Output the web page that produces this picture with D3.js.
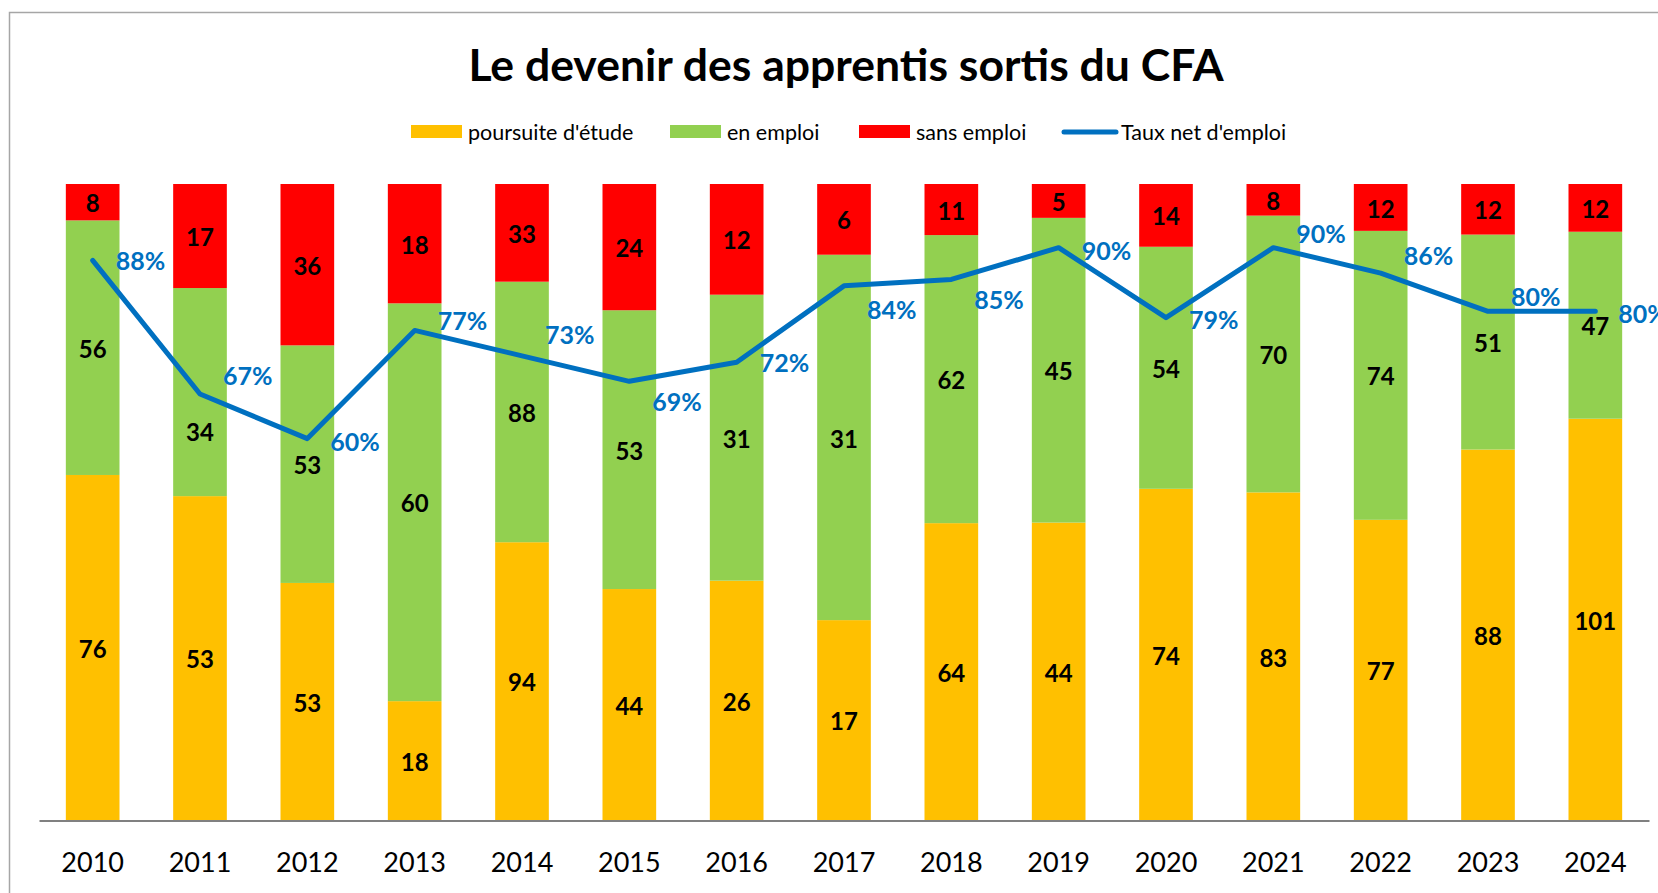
<!DOCTYPE html>
<html>
<head>
<meta charset="utf-8">
<script src="https://cdn.jsdelivr.net/npm/d3@7"></script>
<style>
  body { margin: 0; background: #fff; }
  svg { display: block; font-family: Lato, "Open Sans", sans-serif; }
</style>
</head>
<body>
<svg id="chart"></svg>
<script>
const width = 1658;
const height = 893;

// data
const years = ["2010", "2011", "2012", "2013", "2014", "2015", "2016", "2017", "2018", "2019", "2020", "2021", "2022", "2023", "2024"];
const poursuite = [76, 53, 53, 18, 94, 44, 26, 17, 64, 44, 74, 83, 77, 88, 101];
const enEmploi = [56, 34, 53, 60, 88, 53, 31, 31, 62, 45, 54, 70, 74, 51, 47];
const sansEmploi = [8, 17, 36, 18, 33, 24, 12, 6, 11, 5, 14, 8, 12, 12, 12];
const tauxNet = [88, 67, 60, 77, 73, 69, 72, 84, 85, 90, 79, 90, 86, 80, 80];
const seriesNames = ["poursuite d'étude", "en emploi", "sans emploi"];
const lineName = "Taux net d'emploi";

// hand-moved labels in the original (vertical nudge, px)
const rateLabelDy = [0, -19, 2, -10, -22, 20, 0, 23, 20, 2, 1, -15, -18, -15, 2];
const segLabelDy = { "en emploi|2011": 39 };

const colors = {
    "poursuite d'étude": "#FFC000",
    "en emploi": "#92D050",
    "sans emploi": "#FF0000",
};
const lineColor = "#0070C0";

const svg = d3.select("#chart").attr("width", width).attr("height", height);

const rows = years.map((y, i) => ({
    year: y,
    "poursuite d'étude": poursuite[i],
    "en emploi": enEmploi[i],
    "sans emploi": sansEmploi[i],
}));

const stacked = d3.stack().keys(seriesNames).offset(d3.stackOffsetExpand)(rows);

const x = d3.scaleBand().domain(years).range([39, 1649]).paddingInner(0.5).paddingOuter(0.25);
const y = d3.scaleLinear().domain([0, 1]).range([820.5, 184]);

// chart frame (runs off the right and bottom edge)
svg.append("rect")
    .attr("x", 9.5).attr("y", 12.5)
    .attr("width", 1720).attr("height", 940)
    .attr("fill", "none")
    .attr("stroke", "#a6a6a6")
    .attr("stroke-width", 1.5);

svg.append("text")
    .attr("x", 846).attr("y", 81)
    .attr("text-anchor", "middle")
    .attr("font-size", 44.5)
    .attr("font-weight", 700)
    .attr("fill", "#000")
    .text("Le devenir des apprentis sortis du CFA");

// bars
const layers = svg.append("g")
    .selectAll("g")
    .data(stacked)
    .join("g")
    .attr("fill", (d) => colors[d.key]);

layers.selectAll("rect")
    .data((d) => d)
    .join("rect")
    .attr("x", (d) => x(d.data.year))
    .attr("width", x.bandwidth())
    .attr("y", (d) => y(d[1]))
    .attr("height", (d) => y(d[0]) - y(d[1]));

// axis
const xAxis = svg.append("g")
    .attr("transform", `translate(0,${y(0)})`)
    .call(d3.axisBottom(x).tickSize(0).tickPadding(32));
xAxis.select(".domain").attr("stroke", "#808080").attr("stroke-width", 2);
xAxis.selectAll("text")
    .attr("font-size", 27)
    .attr("font-family", "Lato, sans-serif")
    .attr("fill", "#000");

// line
const line = d3.line()
    .x((d, i) => x(years[i]) + x.bandwidth() / 2)
    .y((d) => y(d / 100));

svg.append("path")
    .datum(tauxNet)
    .attr("d", line)
    .attr("fill", "none")
    .attr("stroke", lineColor)
    .attr("stroke-width", 5)
    .attr("stroke-linejoin", "round")
    .attr("stroke-linecap", "round");

// segment labels
layers.each(function (layer) {
    d3.select(this).selectAll("text")
        .data(layer)
        .join("text")
        .attr("x", (d) => x(d.data.year) + x.bandwidth() / 2)
        .attr("y", (d) => (y(d[0]) + y(d[1])) / 2 + (segLabelDy[layer.key + "|" + d.data.year] || 0))
        .attr("dy", "0.42em")
        .attr("text-anchor", "middle")
        .attr("font-size", 24)
        .attr("font-weight", 700)
        .attr("fill", "#000")
        .text((d) => d.data[layer.key]);
});

// rate labels
svg.append("g")
    .selectAll("text")
    .data(tauxNet)
    .join("text")
    .attr("x", (d, i) => x(years[i]) + x.bandwidth() / 2 + 23)
    .attr("y", (d, i) => y(d / 100) + rateLabelDy[i])
    .attr("dy", "0.4em")
    .attr("font-size", 25)
    .attr("font-weight", 700)
    .attr("fill", lineColor)
    .text((d) => d + "%");

// legend
const legendItems = [
    { name: seriesNames[0], x: 411, type: "box" },
    { name: seriesNames[1], x: 670, type: "box" },
    { name: seriesNames[2], x: 859, type: "box" },
    { name: lineName, x: 1062, type: "line" },
];

const legend = svg.append("g");
legendItems.forEach((item) => {
    const g = legend.append("g").attr("transform", `translate(${item.x},0)`);
    if (item.type === "box") {
        g.append("rect")
            .attr("y", 125).attr("width", 51).attr("height", 13)
            .attr("fill", colors[item.name]);
    } else {
        g.append("line")
            .attr("x1", 2).attr("x2", 54)
            .attr("y1", 132).attr("y2", 132)
            .attr("stroke", lineColor)
            .attr("stroke-width", 5)
            .attr("stroke-linecap", "round");
    }
    g.append("text")
        .attr("x", item.type === "box" ? 57 : 59)
        .attr("y", 140)
        .attr("font-size", 21.5)
        .attr("fill", "#000")
        .text(item.name);
});
</script>
</body>
</html>
